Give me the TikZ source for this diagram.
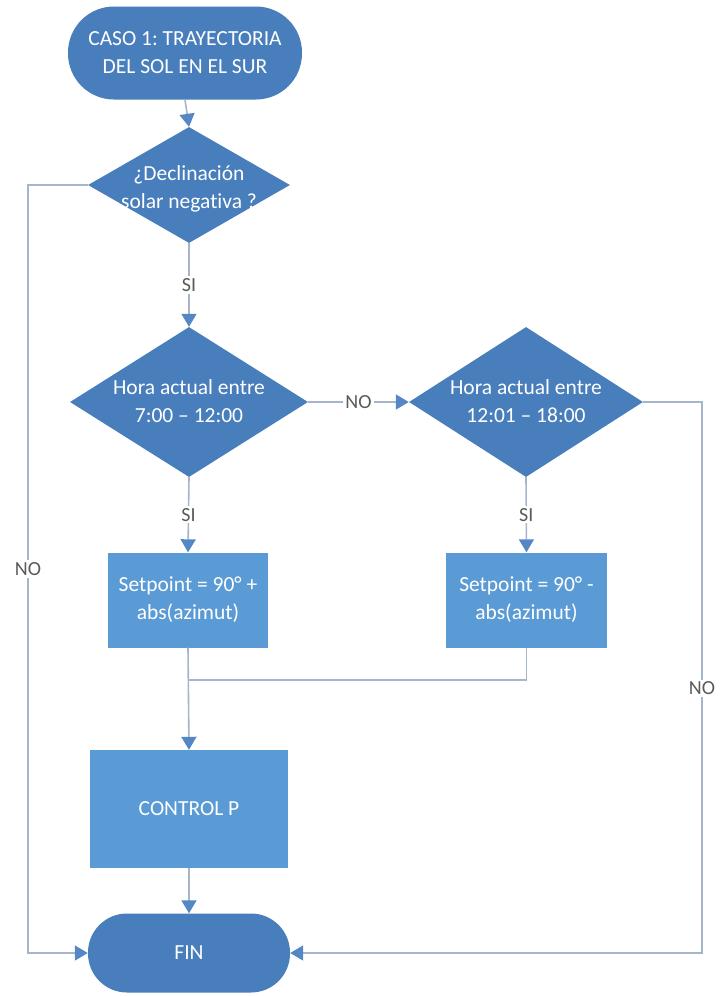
\documentclass[tikz,border=0pt]{standalone}
\usepackage{fontspec}
\setmainfont{Carlito}[Ligatures=NoCommon]
\usetikzlibrary{shapes.geometric,arrows.meta}
\frenchspacing

\definecolor{termblue}{RGB}{72,126,187}
\definecolor{boxblue}{RGB}{91,155,213}
\definecolor{linegray}{RGB}{165,182,204}
\definecolor{tipblue}{RGB}{84,135,196}
\definecolor{labelgray}{RGB}{90,90,90}

\begin{document}
\begin{tikzpicture}[x=1pt,y=-1pt,
  every node/.style={font=\fontsize{21.5}{28}\selectfont},
  term/.style={rectangle, fill=termblue, rounded corners=#1, text=white,
               align=center, inner sep=0pt},
  dec/.style={diamond, fill=termblue, inner sep=0pt},
  proc/.style={rectangle, fill=boxblue, text=white, align=center, inner sep=0pt},
  intext/.style={text=white, align=center, inner sep=0pt},
  link/.style={draw=linegray, line width=1.6pt},
  flow/.style={link, -{Triangle[width=15pt,length=13pt,color=tipblue]}},
  tag/.style={fill=white, text=labelgray, inner sep=2pt,
              font=\fontsize{20}{22}\selectfont}
]
\useasboundingbox (0,0) rectangle (725,996);

% start / end terminators
\node[term=46pt, minimum width=234pt, minimum height=93pt] (start) at (185,53)
  {CASO 1: TRAYECTORIA\\DEL SOL EN EL SUR};
\node[term=39pt, minimum width=202pt, minimum height=79pt] (fin) at (189,953) {FIN};

% decisions
\node[dec, minimum width=202pt, minimum height=116pt] (d1) at (189,185) {};
\node[intext] (d1t) at (189,189) {¿Declinación\\solar negativa ?};

\node[dec, minimum width=238pt, minimum height=150pt] (d2) at (189,402) {};
\node[intext] (d2t) at (189,401) {Hora actual entre\\7:00 – 12:00};

\node[dec, minimum width=234pt, minimum height=150pt] (d3) at (526,402) {};
\node[intext] (d3t) at (526,401) {Hora actual entre\\12:01 – 18:00};

% processes
\node[proc, minimum width=160pt, minimum height=95pt] (b1) at (188,600)
  {Setpoint = 90° +\\abs(azimut)};
\node[proc, minimum width=161pt, minimum height=95pt] (b2) at (526.5,600)
  {Setpoint = 90° -\\abs(azimut)};
\node[proc, minimum width=198pt, minimum height=118pt] (cp) at (189,809) {CONTROL P};

% bends of the connectors
\coordinate (join) at (188,680);
\coordinate (lbend) at (28,953);
\coordinate (rbend) at (702,953);

% connectors
\draw[flow] (start.south) -- (d1.north);
\draw[flow] (d1.south) -- node[tag] {SI} (d2.north);
\draw[flow] (d2.east) -- node[tag] {NO} (d3.west);
\draw[flow] (d2.south) -- node[tag] {SI} (b1.north);
\draw[flow] (d3.south) -- node[tag] {SI} (b2.north);
\draw[flow] (b1.south) -- (cp.north);
\draw[link] (b2.south) |- (join);
\draw[flow] (cp.south) -- (fin.north);
\draw[flow] (d1.west) -| node[tag, pos=0.75] {NO} (lbend) -- (fin.west);
\draw[flow] (d3.east) -| node[tag, pos=0.76] {NO} (rbend) -- (fin.east);
\end{tikzpicture}
\end{document}
